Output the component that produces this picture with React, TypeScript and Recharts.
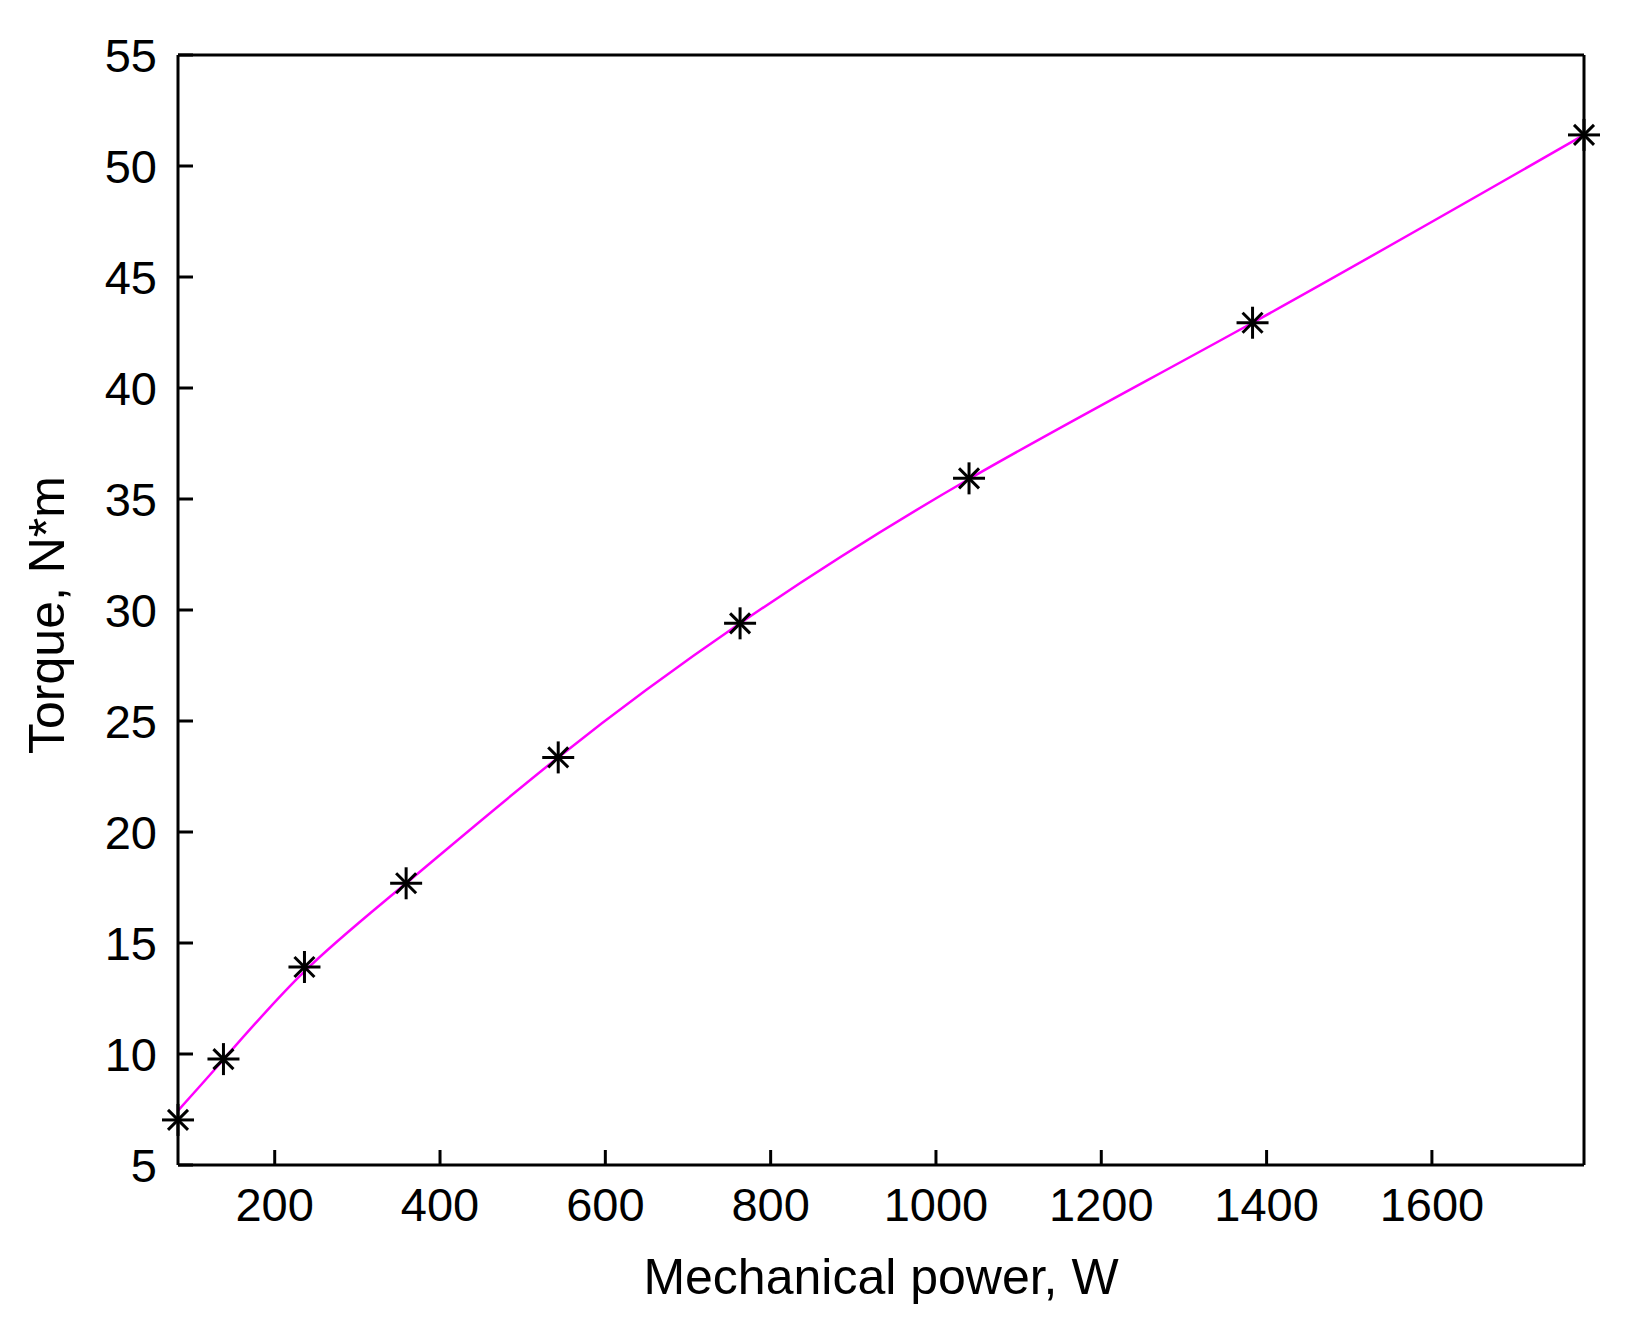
import React from "react";
import { ComposedChart, Line, Scatter, XAxis, YAxis } from "recharts";

// measured points (mechanical power in W, torque in N*m)
const power = [83, 138, 236, 359, 543, 763, 1040, 1383, 1784];
const torque = [7.03, 9.77, 13.92, 17.69, 23.36, 29.4, 35.93, 42.94, 51.4];
// magenta fitted curve at the same powers
const fitTorque = [7.45, 9.75, 13.72, 17.69, 23.36, 29.4, 35.9, 42.94, 51.4];

const xTicks = [200, 400, 600, 800, 1000, 1200, 1400, 1600];
const yTicks = [5, 10, 15, 20, 25, 30, 35, 40, 45, 50, 55];

const xTitle = "Mechanical power, W";
const yTitle = "Torque, N*m";

const data = power.map((p, i) => ({ power: p, torque: torque[i], fit: fitTorque[i] }));

const FONT = "'Liberation Sans', Arial, sans-serif";
const tickStyle = { fontSize: 47, fill: "#000", fontFamily: FONT };
const TICK_LEN = -15;

function Star(props: any) {
  const { cx, cy } = props;
  if (cx == null || cy == null) return null;
  const a = 16;
  const d = 10;
  return (
    <g stroke="#000" strokeWidth={3}>
      <line x1={cx - a} y1={cy} x2={cx + a} y2={cy} />
      <line x1={cx} y1={cy - a} x2={cx} y2={cy + a} />
      <line x1={cx - d} y1={cy - d} x2={cx + d} y2={cy + d} />
      <line x1={cx - d} y1={cy + d} x2={cx + d} y2={cy - d} />
    </g>
  );
}

function XTitle(props: any) {
  const vb = props.viewBox || {};
  return (
    <text
      x={vb.x + vb.width / 2}
      y={vb.y + 129}
      textAnchor="middle"
      fontSize={50}
      fontFamily={FONT}
      fill="#000"
    >
      {xTitle}
    </text>
  );
}

function YTitle(props: any) {
  const vb = props.viewBox || {};
  const x = vb.x + 56;
  const y = vb.y + vb.height / 2 + 5;
  return (
    <text
      x={x}
      y={y}
      transform={`rotate(-90, ${x}, ${y})`}
      textAnchor="middle"
      fontSize={50}
      fontFamily={FONT}
      fill="#000"
    >
      {yTitle}
    </text>
  );
}

export default function App() {
  const axisLine = { stroke: "#000", strokeWidth: 3 };
  const tickLine = { stroke: "#000", strokeWidth: 3 };
  const xDomain = [power[0], power[power.length - 1]];
  const yDomain = [yTicks[0], yTicks[yTicks.length - 1]];
  return (
    <div style={{ width: 1620, height: 1308, background: "#fff" }}>
      <ComposedChart
        width={1620}
        height={1308}
        data={data}
        margin={{ top: 0, right: 0, bottom: 0, left: 0 }}
      >
        <XAxis
          xAxisId="b"
          dataKey="power"
          type="number"
          domain={xDomain}
          ticks={xTicks}
          height={151}
          axisLine={axisLine}
          tickLine={tickLine}
          tickSize={TICK_LEN}
          tickMargin={38}
          tick={tickStyle}
          interval={0}
          label={<XTitle />}
        />
        <XAxis
          xAxisId="t"
          orientation="top"
          dataKey="power"
          type="number"
          domain={xDomain}
          ticks={xTicks}
          height={47}
          axisLine={axisLine}
          tickLine={tickLine}
          tickSize={TICK_LEN}
          tick={false}
          interval={0}
        />
        <YAxis
          yAxisId="l"
          type="number"
          domain={yDomain}
          ticks={yTicks}
          width={170}
          axisLine={axisLine}
          tickLine={tickLine}
          tickSize={TICK_LEN}
          tickMargin={36}
          tick={tickStyle}
          interval={0}
          label={<YTitle />}
        />
        <YAxis
          yAxisId="r"
          orientation="right"
          type="number"
          domain={yDomain}
          ticks={yTicks}
          width={44}
          axisLine={axisLine}
          tickLine={tickLine}
          tickSize={TICK_LEN}
          tick={false}
          interval={0}
        />
        <Line
          xAxisId="b"
          yAxisId="l"
          type="natural"
          dataKey="fit"
          stroke="#ff00ff"
          strokeWidth={2.5}
          dot={false}
          activeDot={false}
          isAnimationActive={false}
        />
        <Scatter
          xAxisId="b"
          yAxisId="l"
          dataKey="torque"
          shape={<Star />}
          isAnimationActive={false}
        />
      </ComposedChart>
    </div>
  );
}
